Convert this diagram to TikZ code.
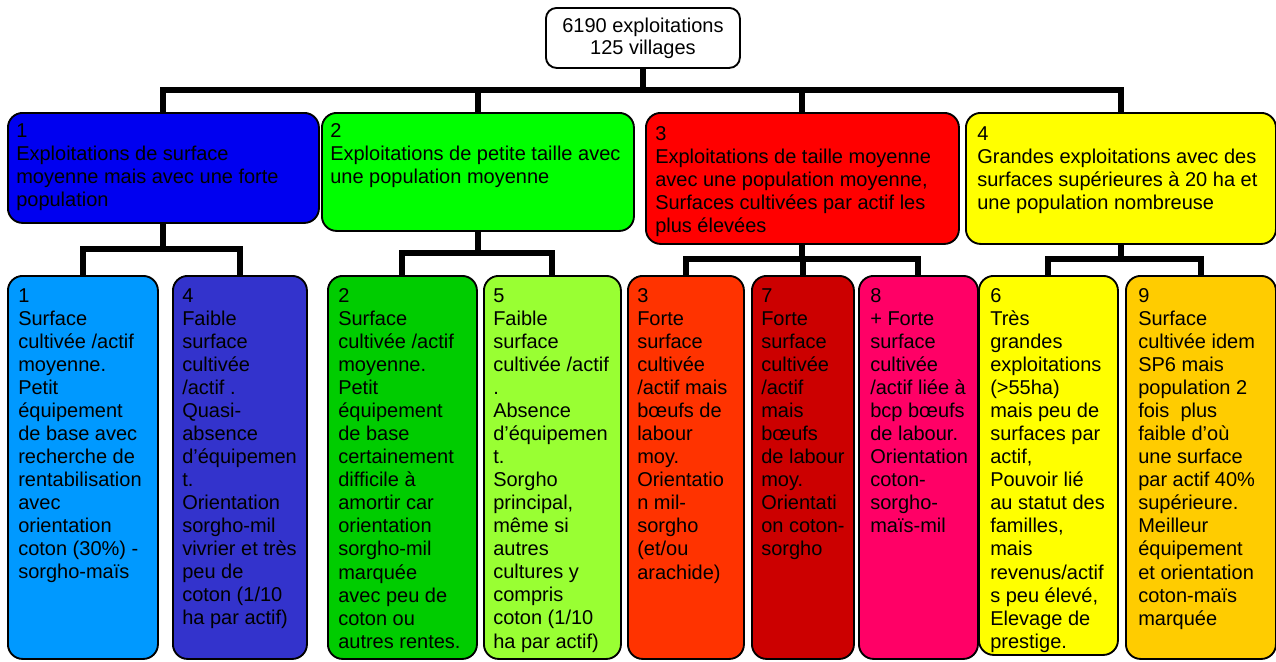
\documentclass[tikz,border=0pt]{standalone}
\usepackage{fontspec}
\setmainfont{Liberation Sans}
\definecolor{cB1}{RGB}{0,0,240}
\definecolor{cB2}{RGB}{0,255,0}
\definecolor{cB3}{RGB}{255,0,0}
\definecolor{cB4}{RGB}{255,255,0}
\definecolor{cC1}{RGB}{0,153,255}
\definecolor{cC4}{RGB}{51,51,204}
\definecolor{cC2}{RGB}{0,204,0}
\definecolor{cC5}{RGB}{153,255,51}
\definecolor{cC3}{RGB}{255,51,0}
\definecolor{cC7}{RGB}{204,0,0}
\definecolor{cC8}{RGB}{255,0,102}
\definecolor{cC6}{RGB}{255,255,0}
\definecolor{cC9}{RGB}{255,204,0}
\tikzset{
  boxnode/.style={draw=black, line width=1.4pt, rectangle, rounded corners=11pt, anchor=north west, inner sep=0pt},
  txt/.style={anchor=north west, inner sep=0pt, align=left, font=\fontsize{15}{17.3}\selectfont},
  conn/.style={draw=black, line width=4.5pt, line join=miter, line cap=butt},
}
\begin{document}
\begin{tikzpicture}[x=0.75pt,y=-0.75pt]
\useasboundingbox (0,0) rectangle (1276,661);
% root
\node[boxnode, rounded corners=8pt, fill=white, minimum width=145.5pt, minimum height=45pt,
  align=center, font=\fontsize{15}{16.5}\selectfont] (root) at (545,7) {6190 exploitations\\125 villages};
% level 1
\node[boxnode, fill=cB1, minimum width=233.25pt, minimum height=82.5pt] (b1) at (7,112) {};
\node[boxnode, fill=cB2, minimum width=234pt, minimum height=88.5pt] (b2) at (321,112) {};
\node[boxnode, fill=cB3, minimum width=234.75pt, minimum height=98.25pt] (b3) at (645,112) {};
\node[boxnode, fill=cB4, minimum width=232.5pt, minimum height=98.25pt] (b4) at (965,112) {};
\node[txt] (b1t) at (16,123) {1\\Exploitations de surface\\moyenne mais avec une forte\\population};
\node[txt] (b2t) at (330,123) {2\\Exploitations de petite taille avec\\une population moyenne};
\node[txt] (b3t) at (655,126) {3\\Exploitations de taille moyenne\\avec une population moyenne,\\Surfaces cultivées par actif les\\plus élevées};
\node[txt] (b4t) at (977,126) {4\\Grandes exploitations avec des\\surfaces supérieures à 20 ha et\\une population nombreuse};
% level 2
\node[boxnode, fill=cC1, minimum width=112.5pt, minimum height=287.25pt] (c1) at (7,275) {};
\node[boxnode, fill=cC4, minimum width=100.5pt, minimum height=287.25pt] (c4) at (172,275) {};
\node[boxnode, fill=cC2, minimum width=111.75pt, minimum height=287.25pt] (c2) at (327,275) {};
\node[boxnode, fill=cC5, minimum width=102.75pt, minimum height=287.25pt] (c5) at (483,275) {};
\node[boxnode, fill=cC3, minimum width=87pt, minimum height=287.25pt] (c3) at (627,275) {};
\node[boxnode, fill=cC7, minimum width=76.5pt, minimum height=287.25pt] (c7) at (751,275) {};
\node[boxnode, fill=cC8, minimum width=89.25pt, minimum height=287.25pt] (c8) at (858,275) {};
\node[boxnode, fill=cC6, minimum width=104.25pt, minimum height=284.25pt] (c6) at (978,275) {};
\node[boxnode, fill=cC9, minimum width=112.5pt, minimum height=287.25pt] (c9) at (1125,275) {};
\node[txt] (c1t) at (18,288) {1\\Surface\\cultivée /actif\\moyenne.\\Petit\\équipement\\de base avec\\recherche de\\rentabilisation\\avec\\orientation\\coton (30\%) -\\sorgho-maïs};
\node[txt] (c4t) at (182,288) {4\\Faible\\surface\\cultivée\\/actif .\\Quasi-\\absence\\d’équipemen\\t.\\Orientation\\sorgho-mil\\vivrier et très\\peu de\\coton (1/10\\ha par actif)};
\node[txt] (c2t) at (338,288) {2\\Surface\\cultivée /actif\\moyenne.\\Petit\\équipement\\de base\\certainement\\difficile à\\amortir car\\orientation\\sorgho-mil\\marquée\\avec peu de\\coton ou\\autres rentes.};
\node[txt] (c5t) at (493,288) {5\\Faible\\surface\\cultivée /actif\\.\\Absence\\d’équipemen\\t.\\Sorgho\\principal,\\même si\\autres\\cultures y\\compris\\coton (1/10\\ha par actif)};
\node[txt] (c3t) at (637,288) {3\\Forte\\surface\\cultivée\\/actif mais\\bœufs de\\labour\\moy.\\Orientatio\\n mil-\\sorgho\\(et/ou\\arachide)};
\node[txt] (c7t) at (761,288) {7\\Forte\\surface\\cultivée\\/actif\\mais\\bœufs\\de labour\\moy.\\Orientati\\on coton-\\sorgho};
\node[txt] (c8t) at (870,288) {8\\+ Forte\\surface\\cultivée\\/actif liée à\\bcp bœufs\\de labour.\\Orientation\\coton-\\sorgho-\\maïs-mil};
\node[txt] (c6t) at (990,288) {6\\Très\\grandes\\exploitations\\(>55ha)\\mais peu de\\surfaces par\\actif,\\Pouvoir lié\\au statut des\\familles,\\mais\\revenus/actif\\s peu élevé,\\Elevage de\\prestige.};
\node[txt] (c9t) at (1138,288) {9\\Surface\\cultivée idem\\SP6 mais\\population 2\\fois\ \ plus\\faible d’où\\une surface\\par actif 40\%\\supérieure.\\Meilleur\\équipement\\et orientation\\coton-maïs\\marquée};
% bars
\coordinate (bar) at (0,89.5);
\coordinate (s1) at (0,248.5);
\coordinate (s2) at (0,252.5);
\coordinate (s3) at (0,258.5);
\coordinate (s4) at (0,258.5);
% connectors
\draw[conn] (root.south) -- (root.south |- bar);
\draw[conn] (b1.north) -- (b1.north |- bar) -- (b4.north |- bar) -- (b4.north);
\draw[conn] (b2.north) -- (b2.north |- bar);
\draw[conn] (b3.north) -- (b3.north |- bar);
\draw[conn] (b1.south) -- (b1.south |- s1);
\draw[conn] (c1.north) -- (c1.north |- s1) -- (c4.north |- s1) -- (c4.north);
\draw[conn] (b2.south) -- (b2.south |- s2);
\draw[conn] (c2.north) -- (c2.north |- s2) -- (c5.north |- s2) -- (c5.north);
\draw[conn] (b3.south) -- (b3.south |- s3);
\draw[conn] (c3.north) -- (c3.north |- s3) -- (c8.north |- s3) -- (c8.north);
\draw[conn] (c7.north) -- (c7.north |- s3);
\draw[conn] (b4.south) -- (b4.south |- s4);
\draw[conn] (c6.north) -- (c6.north |- s4) -- (c9.north |- s4) -- (c9.north);
\end{tikzpicture}
\end{document}
